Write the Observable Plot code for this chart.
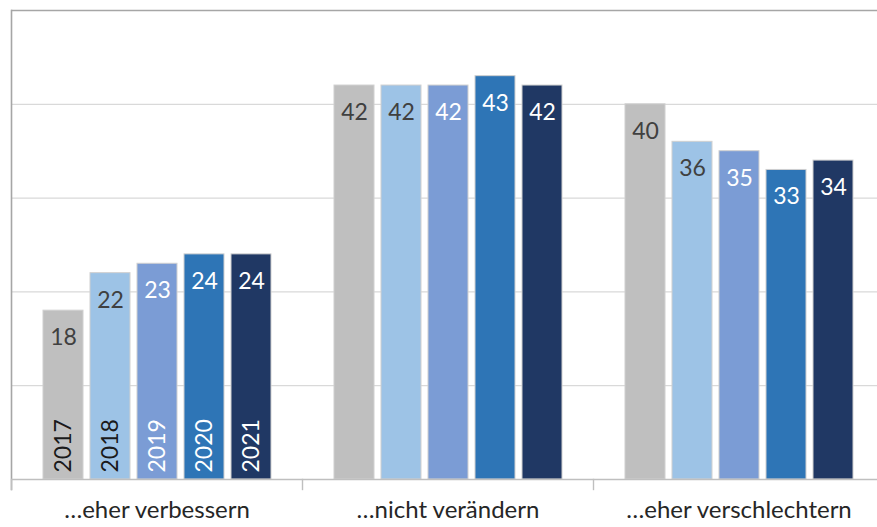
<!DOCTYPE html>
<html>
<head>
<meta charset="utf-8">
<script src="https://cdn.jsdelivr.net/npm/d3@7"></script>
<script src="https://cdn.jsdelivr.net/npm/@observablehq/plot@0.6"></script>
<style>
  html, body { margin: 0; padding: 0; background: #fff; overflow: hidden; }
  #chart { width: 877px; height: 527px; overflow: hidden; }
  #chart svg { max-width: none !important; }
</style>
</head>
<body>
<div id="chart"></div>
<script>
const categories = ["…eher verbessern", "…nicht verändern", "…eher verschlechtern"];
const years = ["2017", "2018", "2019", "2020", "2021"];
const values2017 = [18, 42, 40];
const values2018 = [22, 42, 36];
const values2019 = [23, 42, 35];
const values2020 = [24, 43, 33];
const values2021 = [24, 42, 34];
const gridValues = [10, 20, 30, 40];
const topValue = [50];
const darkLabelYears = ["2017", "2018"];

const seriesByYear = [values2017, values2018, values2019, values2020, values2021];
const data = [];
categories.forEach((cat, ci) => {
  years.forEach((yr, yi) => {
    data.push({cat, year: yr, value: seriesByYear[yi][ci]});
  });
});
const darkData = data.filter(d => darkLabelYears.includes(d.year));
const lightData = data.filter(d => !darkLabelYears.includes(d.year));
const yearLabelData = data.filter(d => d.cat === categories[0]);

const W = 885, H = 527, MT = 10, MB = 48;
const font = "Lato, 'Noto Sans', sans-serif";

const chart = Plot.plot({
  width: W,
  height: H,
  marginLeft: 10,
  marginRight: 0,
  marginTop: MT,
  marginBottom: MB,
  style: {fontFamily: font, fontSize: "22px", background: "white", maxWidth: "none"},
  fx: {domain: categories, padding: 0, axis: null, label: null},
  x: {domain: years, paddingInner: 0.153, paddingOuter: 0.663, axis: null},
  y: {domain: [0, 50], axis: null},
  color: {domain: years, range: ["#bfbfbf", "#9dc3e6", "#7b9cd5", "#2e75b6", "#203864"]},
  marks: [
    Plot.ruleY(gridValues, {stroke: "#d9d9d9", strokeWidth: 1.2}),
    Plot.ruleY(topValue, {stroke: "#a6a6a6", strokeWidth: 1.6}),
    Plot.frame({anchor: "left", fx: () => categories[0], stroke: "#a6a6a6", strokeWidth: 1.6, insetBottom: -10}),
    Plot.frame({anchor: "left", stroke: "#bfbfbf", strokeWidth: 1.4, insetTop: H - MT - MB, insetBottom: -10}),
    Plot.barY(data, {fx: "cat", x: "year", y: "value", fill: "year", stroke: "#d0d0d0", strokeWidth: 1}),
    Plot.ruleY([0], {stroke: "#bfbfbf", strokeWidth: 1.4}),
    Plot.text(darkData, {fx: "cat", x: "year", y: "value", text: d => String(d.value), dy: 27, lineAnchor: "middle", fill: "#404040", fontSize: 23, fontFamily: font}),
    Plot.text(lightData, {fx: "cat", x: "year", y: "value", text: d => String(d.value), dy: 27, lineAnchor: "middle", fill: "white", fontSize: 23, fontFamily: font}),
    Plot.text(yearLabelData, {fx: "cat", x: "year", text: "year", frameAnchor: "bottom", dy: -7, rotate: -90, textAnchor: "start", lineAnchor: "middle", fill: d => darkLabelYears.includes(d.year) ? "#1a1a1a" : "#ffffff", fontSize: 23, fontFamily: font}),
    Plot.axisFx({anchor: "bottom", tickSize: 0, tickPadding: 21, fontSize: 24, fontFamily: font, color: "#262626", label: null})
  ]
});
document.getElementById("chart").appendChild(chart);
</script>
</body>
</html>
